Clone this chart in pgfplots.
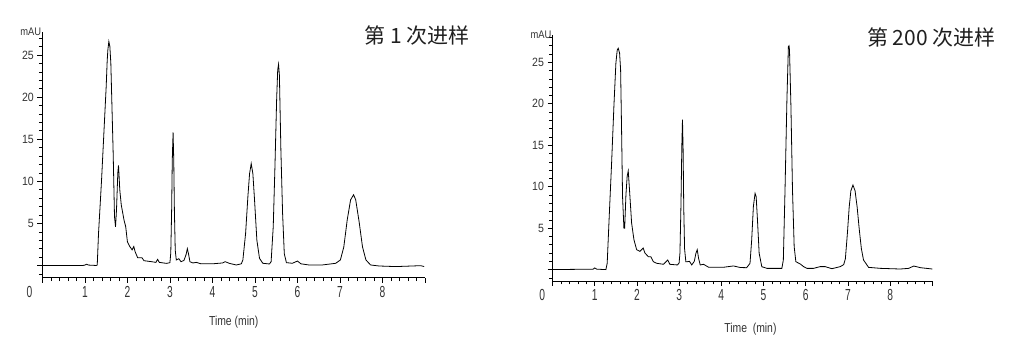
\documentclass[border=0pt]{standalone}
\usepackage{fontspec}
\setmainfont{Liberation Sans}
\newfontfamily\cjk{Noto Sans CJK SC}
\usepackage{graphicx}
\usepackage{pgfplots}
\pgfplotsset{compat=1.18}
\newcommand\sx[1]{\scalebox{0.64}[1]{#1}}
\newcommand\sy[1]{\scalebox{0.88}[1]{#1}}
\definecolor{tickc}{HTML}{333333}
\pgfplotsset{chrom/.style={
  scale only axis, anchor=south west,
  xmin=0, xmax=9,
  axis x line*=bottom, axis y line*=left,
  axis line style={black, line width=0.8pt},
  tick align=outside,
  major tick length=5pt, minor tick length=3.5pt,
  every tick/.style={black, line width=0.6pt},
  xtick={0,...,9},
  minor x tick num=4,
  ytick={0,5,...,25},
  yticklabels={,\sy{5},\sy{10},\sy{15},\sy{20},\sy{25}},
  minor y tick num=4,
  extra y ticks={-1,26,27,28},
  extra y tick labels={},
  extra y tick style={major tick length=3.5pt},
  xticklabel style={font=\fontsize{16}{16}\selectfont, text=tickc},
  yticklabel style={font=\fontsize{12}{12}\selectfont, text=tickc},
  every axis y label/.style={at={(axis description cs:0,1)}, anchor=east, font=\fontsize{11}{11}\selectfont, text=tickc, inner sep=1pt},
  ylabel={\scalebox{0.85}[1]{mAU}},
}}
\begin{document}
\begin{tikzpicture}
\useasboundingbox (0,0) rectangle (1010pt,355pt);
\begin{axis}[chrom,
  at={(42.4pt,77.3pt)}, width=382.6pt, height=245.7pt,
  ymin=-1.45, ymax=27.73,
  xticklabels={\llap{\sx{0}\hspace{10pt}},\sx{1},\sx{2},\sx{3},\sx{4},\sx{5},\sx{6},\sx{7},\sx{8},{}},
  every axis x label/.style={at={(axis description cs:0.5,0)}, anchor=center, yshift=-44pt, font=\fontsize{13}{13}\selectfont, text=tickc},
  xlabel={\scalebox{0.8}[1]{Time (min)}},
]
\addplot[black, line width=0.8pt] coordinates {
(0,0) (0.5,0) (0.95,0) (1.0,0.05) (1.04,0.15) (1.08,0.05) (1.27,0)
(1.29,0.06) (1.32,3.8) (1.336,5.2) (1.391,10.1) (1.446,15.7) (1.50,21.2) (1.524,24.3)
(1.540,25.6) (1.563,26.6) (1.587,26.0) (1.610,24.0) (1.665,13.3) (1.696,5.8) (1.72,4.6)
(1.743,6.6) (1.774,11.0) (1.790,11.9) (1.805,10.5) (1.82,9.0) (1.855,7.2) (1.92,5.4)
(1.96,4.6) (2.0,2.8) (2.05,2.3) (2.11,1.85) (2.15,2.25) (2.18,1.65) (2.24,0.93)
(2.34,0.93) (2.39,0.57) (2.57,0.45) (2.67,0.37) (2.71,0.73) (2.75,0.37) (2.92,0.25)
(2.97,0.3) (3.00,0.35) (3.02,1.5) (3.04,6.5) (3.055,12.5) (3.074,15.8) (3.09,12.5)
(3.105,6.5) (3.125,1.8) (3.15,0.65) (3.21,0.8) (3.26,0.45) (3.33,0.6) (3.38,1.3)
(3.41,2.0) (3.44,1.3) (3.47,0.45) (3.54,0.3) (3.62,0.37) (3.73,0.2) (4.0,0.2)
(4.24,0.3) (4.3,0.45) (4.4,0.25) (4.56,0.06) (4.68,0.2) (4.716,0.66) (4.78,3.8)
(4.834,8.2) (4.873,10.9) (4.912,12.1) (4.951,10.9) (4.99,7.8) (5.045,3.0) (5.107,0.85)
(5.185,0.26) (5.34,0.18) (5.38,0.45) (5.43,4.6) (5.47,11.7) (5.51,19.7) (5.535,23.2)
(5.555,23.9) (5.575,22.6) (5.61,13.7) (5.65,6.2) (5.69,1.4) (5.74,0.34) (5.88,0.26)
(6.0,0.53) (6.08,0.2) (6.27,0.06) (6.58,0.06) (6.9,0.26) (7.01,0.66) (7.09,2.2)
(7.17,5.4) (7.25,7.8) (7.32,8.4) (7.37,7.8) (7.45,5.2) (7.53,2.2) (7.61,0.66)
(7.72,0.06) (7.92,-0.06) (8.31,-0.13) (8.7,-0.06) (8.9,-0.02) (8.98,-0.13)
};
\end{axis}
\begin{axis}[chrom,
  at={(552.5pt,74pt)}, width=379.8pt, height=246pt,
  ymin=-1.375, ymax=28.3,
  xticklabels={\llap{\sx{0}\hspace{7.5pt}},\sx{1},\sx{2},\sx{3},\sx{4},\sx{5},\sx{6},\sx{7},\sx{8},{}},
  every axis x label/.style={at={(axis description cs:0.5,0)}, anchor=center, yshift=-48pt, xshift=8pt, font=\fontsize{13}{13}\selectfont, text=tickc},
  xlabel={\scalebox{0.8}[1]{Time\ \ (min)}},
]
\addplot[black, line width=0.8pt] coordinates {
(0,0) (0.89,0.05) (0.96,0.05) (1.0,0.2) (1.05,0.05) (1.265,0) (1.296,0.76)
(1.344,6.4) (1.40,12.8) (1.455,19.7) (1.502,24.9) (1.534,26.5) (1.558,26.7) (1.59,26.1)
(1.614,24.1) (1.637,16.8) (1.66,8.8) (1.692,5.0) (1.71,5.0) (1.74,9.0) (1.77,11.3)
(1.795,11.9) (1.82,10.0) (1.845,8.0) (1.875,5.6) (1.93,3.6) (1.994,2.4) (2.07,2.2)
(2.15,2.6) (2.19,2.0) (2.27,1.56) (2.33,1.56) (2.39,0.95) (2.47,0.76) (2.63,0.64)
(2.73,1.16) (2.78,0.64) (2.96,0.56) (3.00,0.8) (3.02,2.0) (3.045,8.0) (3.065,15.0)
(3.08,18.1) (3.095,14.5) (3.11,7.5) (3.13,2.5) (3.16,0.95) (3.195,0.95) (3.245,1.0)
(3.30,0.56) (3.36,1.0) (3.40,2.0) (3.43,2.4) (3.46,1.4) (3.50,0.56) (3.58,0.64)
(3.7,0.28) (4.05,0.28) (4.29,0.44) (4.45,0.25) (4.60,0.23) (4.68,0.75) (4.72,3.57)
(4.76,7.6) (4.80,9.2) (4.826,8.8) (4.857,6.0) (4.897,1.97) (4.96,0.35) (5.08,0.15)
(5.435,0.15) (5.47,1.16) (5.51,9.6) (5.555,20.5) (5.59,26.9) (5.605,27.0) (5.616,26.5)
(5.65,19.7) (5.687,9.6) (5.727,2.76) (5.767,0.95) (5.87,0.68) (5.95,0.36) (6.03,0.15)
(6.186,0.15) (6.345,0.36) (6.46,0.36) (6.62,0.11) (6.82,0.36) (6.90,0.6) (6.94,1.3)
(6.99,4.5) (7.03,7.5) (7.07,9.5) (7.12,10.2) (7.17,9.5) (7.22,7.5) (7.27,4.8)
(7.32,2.5) (7.37,1.16) (7.49,0.27) (7.77,0.15) (8.24,0.07) (8.44,0.15) (8.56,0.43)
(8.72,0.23) (9.0,0.07)
};
\end{axis}
\node[anchor=east, font=\cjk\fontsize{21}{21}\selectfont, text=black!88, inner sep=0pt] at (470pt,319pt) {第 1 次进样};
\node[anchor=east, font=\cjk\fontsize{21}{21}\selectfont, text=black!88, inner sep=0pt] at (995.7pt,317pt) {第 200 次进样};
\end{tikzpicture}
\end{document}
